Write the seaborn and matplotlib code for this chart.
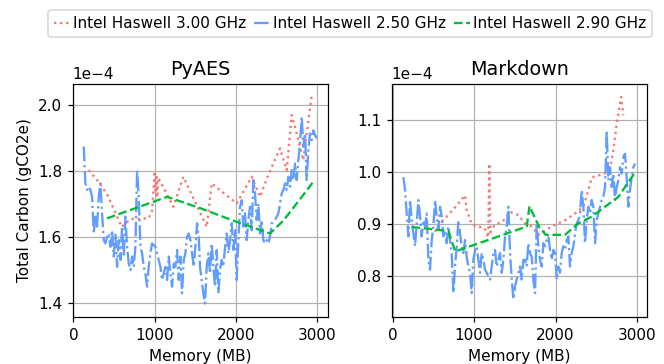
import numpy as np
import pandas as pd
import matplotlib
matplotlib.use("Agg")
import matplotlib.pyplot as plt
import seaborn as sns

SCALE = 1e-4  # values below are in units of 1e-4 gCO2e

labels = ["Intel Haswell 3.00 GHz", "Intel Haswell 2.50 GHz", "Intel Haswell 2.90 GHz"]
colors = ["#F8766D", "#619CFF", "#00BA38"]
styles = [":", "-.", "--"]
titles = ["PyAES", "Markdown"]
x_ticks = [0, 1000, 2000, 3000]

# ---------------- PyAES ----------------
pyaes_red_x = [188, 300, 420, 594, 700, 926, 967, 1000, 1010, 1020, 1030, 1045, 1229, 1352, 1640,
               1701, 2008, 2193, 2295, 2400, 2541, 2623, 2685, 2767, 2828, 2931]
pyaes_red_y = [1.803, 1.770, 1.727, 1.631, 1.655, 1.657, 1.680, 1.800, 1.740, 1.790, 1.720, 1.780,
               1.692, 1.783, 1.631, 1.763, 1.702, 1.783, 1.722, 1.790, 1.869, 1.803, 1.970, 1.894,
               1.833, 2.030]

pyaes_blue_x = [127, 147, 168, 188, 209, 229, 250, 270, 291, 311,
                332, 352, 373, 393, 414, 434, 455, 475, 496, 516,
                537, 557, 578, 598, 619, 639, 660, 680, 701, 721,
                742, 762, 783, 803, 824, 844, 865, 885, 906, 926,
                947, 967, 988, 1008, 1029, 1049, 1070, 1090, 1111, 1131,
                1152, 1172, 1193, 1213, 1234, 1254, 1275, 1295, 1316, 1336,
                1357, 1377, 1398, 1418, 1439, 1459, 1480, 1500, 1521, 1541,
                1557, 1578, 1598, 1619, 1639, 1660, 1680, 1701, 1721, 1742,
                1762, 1783, 1803, 1824, 1844, 1865, 1885, 1906, 1926, 1947,
                1967, 1988, 2008, 2029, 2049, 2070, 2090, 2111, 2131, 2152,
                2172, 2193, 2213, 2234, 2254, 2275, 2295, 2316, 2336, 2357,
                2377, 2398, 2418, 2439, 2459, 2480, 2500, 2521, 2541, 2562,
                2582, 2603, 2623, 2644, 2664, 2685, 2705, 2726, 2746, 2767,
                2787, 2808, 2828, 2849, 2869, 2890, 2910, 2931, 2951, 2972,
                2992]
pyaes_blue_y = [1.874, 1.763, 1.743, 1.753, 1.743, 1.722, 1.611, 1.662, 1.632, 1.722,
                1.763, 1.672, 1.591, 1.581, 1.601, 1.611, 1.571, 1.621, 1.541, 1.611,
                1.510, 1.591, 1.531, 1.632, 1.541, 1.662, 1.571, 1.520, 1.500, 1.541,
                1.510, 1.571, 1.803, 1.722, 1.571, 1.551, 1.510, 1.490, 1.450, 1.510,
                1.551, 1.581, 1.576, 1.571, 1.551, 1.531, 1.510, 1.470, 1.490, 1.510,
                1.470, 1.541, 1.490, 1.450, 1.520, 1.510, 1.561, 1.470, 1.541, 1.430,
                1.531, 1.551, 1.601, 1.611, 1.591, 1.551, 1.510, 1.571, 1.642, 1.601,
                1.510, 1.470, 1.430, 1.399, 1.510, 1.551, 1.490, 1.581, 1.510, 1.450,
                1.561, 1.430, 1.500, 1.531, 1.510, 1.571, 1.611, 1.551, 1.591, 1.642,
                1.561, 1.621, 1.470, 1.591, 1.692, 1.712, 1.632, 1.672, 1.591, 1.652,
                1.692, 1.621, 1.773, 1.733, 1.652, 1.702, 1.611, 1.652, 1.591, 1.581,
                1.591, 1.581, 1.601, 1.642, 1.647, 1.652, 1.662, 1.672, 1.702, 1.733,
                1.743, 1.763, 1.743, 1.783, 1.753, 1.803, 1.773, 1.823, 1.773, 1.834,
                1.884, 1.965, 1.874, 1.914, 1.773, 1.864, 1.914, 1.894, 1.924, 1.909,
                1.899]

pyaes_green_x = [414, 1152, 1557, 1967, 2418, 2582, 2787, 2951]
pyaes_green_y = [1.657, 1.722, 1.688, 1.650, 1.611, 1.650, 1.715, 1.768]

# ---------------- Markdown ----------------
md_red_x = [522, 600, 665, 780, 890, 910, 972, 1054, 1130, 1175, 1188, 1200, 1258, 1350, 1442,
            1544, 1626, 1708, 1790, 1953, 2117, 2240, 2343, 2403, 2444, 2608, 2680, 2710, 2751,
            2805, 2832]
md_red_y = [0.886, 0.905, 0.915, 0.935, 0.956, 0.928, 0.900, 0.896, 0.893, 0.875, 1.017, 0.885,
            0.900, 0.905, 0.924, 0.918, 0.902, 0.896, 0.880, 0.896, 0.908, 0.921, 0.934, 0.966,
            0.990, 0.998, 1.017, 1.043, 1.094, 1.145, 1.110]

md_blue_x = [133, 154, 174, 195, 215, 236, 256, 276, 297, 317,
             338, 358, 379, 399, 420, 440, 460, 481, 501, 522,
             542, 563, 583, 604, 624, 645, 665, 685, 706, 726,
             747, 767, 788, 808, 829, 849, 869, 890, 910, 931,
             951, 972, 992, 1013, 1033, 1054, 1074, 1094, 1115, 1135,
             1156, 1176, 1197, 1217, 1238, 1258, 1278, 1299, 1319, 1340,
             1360, 1381, 1401, 1422, 1442, 1463, 1483, 1503, 1524, 1544,
             1565, 1585, 1606,
             1626, 1646, 1667, 1687, 1708, 1728, 1749, 1769, 1790, 1810,
             1831, 1851, 1871, 1892, 1912, 1933, 1953, 1974, 1994, 2015,
             2035, 2055, 2076, 2096, 2117, 2137, 2158, 2178, 2199, 2219,
             2240, 2260, 2280, 2301, 2321, 2342, 2362, 2383, 2403, 2424,
             2444, 2464, 2485, 2505, 2526, 2546, 2567, 2587, 2608, 2628,
             2649, 2669, 2689, 2710, 2730, 2751, 2771, 2792, 2812, 2833,
             2853, 2873, 2894, 2914, 2935, 2955, 2976]
md_blue_y = [0.991, 0.966, 0.921, 0.877, 0.947, 0.908, 0.883, 0.858, 0.902, 0.947,
             0.915, 0.877, 0.908, 0.896, 0.921, 0.832, 0.813, 0.870, 0.896, 0.947,
             0.915, 0.889, 0.934, 0.915, 0.877, 0.889, 0.864, 0.896, 0.870, 0.845,
             0.768, 0.819, 0.858, 0.908, 0.883, 0.858, 0.845, 0.870, 0.838, 0.819,
             0.807, 0.768, 0.832, 0.851, 0.858, 0.832, 0.807, 0.845, 0.832, 0.813,
             0.807, 0.800, 0.794, 0.819, 0.845, 0.851, 0.819, 0.832, 0.845, 0.807,
             0.832, 0.877, 0.896, 0.934, 0.845, 0.794, 0.756, 0.781, 0.794, 0.807,
             0.819, 0.794, 0.832,
             0.832, 0.819, 0.864, 0.845, 0.838, 0.794, 0.768, 0.902, 0.858, 0.832,
             0.819, 0.864, 0.858, 0.870, 0.877, 0.851, 0.832, 0.851, 0.845, 0.794,
             0.819, 0.807, 0.845, 0.858, 0.851, 0.870, 0.877, 0.819, 0.845, 0.858,
             0.883, 0.902, 0.908, 0.921, 0.966, 0.934, 0.864, 0.908, 0.934, 0.921,
             0.947, 0.934, 0.864, 0.908, 0.921, 0.934, 0.947, 0.953, 0.972, 1.080,
             0.985, 1.010, 0.972, 0.998, 0.947, 0.972, 0.985, 1.010, 0.998, 1.030,
             1.036, 0.991, 0.934, 0.966, 0.991, 1.010, 1.017]

md_green_x = [236, 542, 685, 770, 1647, 1680, 1800, 1880, 2117, 2280, 2444, 2771, 2976]
md_green_y = [0.895, 0.890, 0.887, 0.848, 0.896, 0.935, 0.895, 0.880, 0.880, 0.902, 0.915, 0.953, 1.000]

panels = [
    [(pyaes_red_x, pyaes_red_y), (pyaes_blue_x, pyaes_blue_y), (pyaes_green_x, pyaes_green_y)],
    [(md_red_x, md_red_y), (md_blue_x, md_blue_y), (md_green_x, md_green_y)],
]

plt.rcParams.update({"axes.grid": True, "font.family": ["DejaVu Sans"]})

W, H, DPI = 664, 364, 110
fig = plt.figure(figsize=(W / DPI, H / DPI), dpi=DPI)
ax1 = fig.add_axes([72.7 / W, 1 - 317 / H, (328.3 - 72.7) / W, (317 - 84) / H])
ax2 = fig.add_axes([391.7 / W, 1 - 317 / H, (646.7 - 391.7) / W, (317 - 84) / H])
axes = [ax1, ax2]

for ax, series, title in zip(axes, panels, titles):
    for (xs, ys), lab, col, ls in zip(series, labels, colors, styles):
        df = pd.DataFrame({"Memory": xs, "Carbon": np.array(ys) * SCALE})
        sns.lineplot(data=df, x="Memory", y="Carbon", ax=ax, color=col, linestyle=ls,
                     linewidth=1.5, label=lab, estimator=None)
    ax.set_title(title, fontsize=12.5)
    ax.set_xlabel("Memory (MB)")
    ax.set_ylabel("")
    ax.get_legend().remove()
    ax.ticklabel_format(axis="y", style="sci", scilimits=(-3, 3))

ax1.set_ylabel("Total Carbon (gCO2e)")
ax1.set_xlim(-9, 3135)
ax2.set_xlim(-10, 3119)
ax1.set_ylim(1.358e-4, 2.064e-4)
ax2.set_ylim(0.722e-4, 1.170e-4)
for ax in axes:
    ax.set_xticks(x_ticks)

handles, labs = ax1.get_legend_handles_labels()
fig.legend(handles, labs, loc="upper center", bbox_to_anchor=(350 / W, 1 - 10 / H),
           ncol=3, handlelength=1.1, handletextpad=0.15, columnspacing=0.5,
           borderaxespad=0, frameon=True)

fig.savefig("out.png", dpi=DPI)
